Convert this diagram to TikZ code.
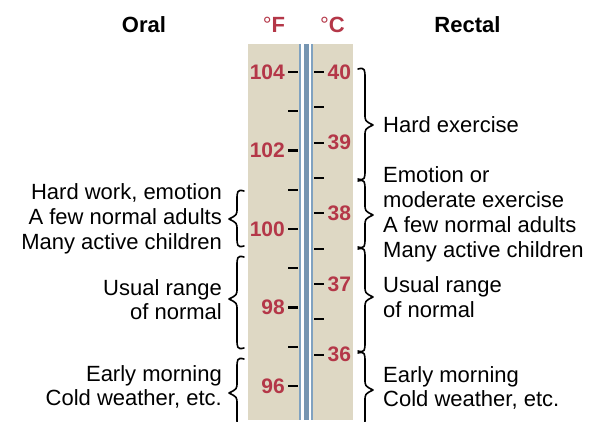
\documentclass[tikz,border=0pt]{standalone}
\usepackage{fontspec}
\setmainfont{Liberation Sans}
\definecolor{panelbg}{RGB}{222,216,196}
\definecolor{tubeblue}{RGB}{128,162,192}
\definecolor{numred}{RGB}{180,55,72}
\tikzset{
  txt/.style={font=\fontsize{22}{25}\selectfont, inner sep=0pt},
  num/.style={font=\fontsize{21}{25}\selectfont\bfseries, text=numred, inner sep=0pt},
  ttl/.style={font=\fontsize{22}{25}\selectfont\bfseries, inner sep=0pt},
  tickline/.style={line width=2.2pt},
  brc/.style={line width=1.6pt, line cap=round, line join=round},
}
% #1 spine x, #2 hook x, #3 tip x, #4 top y, #5 tip y, #6 bottom y
\newcommand{\mybrace}[6]{%
  \draw[brc] (#2,{#4+1}) .. controls (#1,{#4-1}) and (#1,{#4+2}) .. (#1,{#4+10}) -- (#1,{#5-11})
    .. controls (#1,{#5-4}) .. (#3,#5) .. controls (#1,{#5+4}) .. (#1,{#5+11})
    -- (#1,{#6-10}) .. controls (#1,{#6-2}) and (#1,{#6+1}) .. (#2,{#6-1});}
\begin{document}
\begin{tikzpicture}[x=1pt,y=-1pt]
\useasboundingbox (0,0) rectangle (592,435);
% panel and tube
\fill[panelbg] (248,44) rectangle (353,420);
\fill[white] (299,44) rectangle (313,420);
\fill[tubeblue] (299,44) rectangle (301.3,420);
\fill[tubeblue!92!black] (303.8,44) rectangle (308.6,420);
\fill[tubeblue] (311,44) rectangle (313,420);
% ticks
\foreach \f in {96,...,104}
  \draw[tickline] (288,{72+(104-\f)*39.25}) -- (298,{72+(104-\f)*39.25});
\foreach \i in {0,...,8}
  \draw[tickline] (314,{72+\i*35.33}) -- (323.5,{72+\i*35.33});
% F labels
\foreach \f in {104,102,100,98,96}
  \node[num, anchor=east] (f\f) at (285,{72+(104-\f)*39.25}) {\f};
% C labels
\foreach \c/\i in {40/0,39/2,38/4,37/6,36/8}
  \node[num, anchor=west] (c\c) at (327.5,{72+\i*35.33}) {\c};
% titles
\node[ttl, anchor=base] (oral) at (144,33) {Oral};
\node[ttl, anchor=base] (rectal) at (467.5,33) {Rectal};
\node[ttl, text=numred, anchor=base] (degf) at (274,33) {{\mdseries °}F};
\node[ttl, text=numred, anchor=base] (degc) at (332.5,33) {{\mdseries °}C};
% braces
\begin{scope}
\clip (0,0) rectangle (592,422);
\mybrace{237}{244}{229}{190}{219}{247}
\mybrace{237}{244}{229}{256}{299}{349}
\mybrace{237}{244}{229}{358}{393}{428}
\mybrace{365}{358}{373}{68}{125}{180}
\mybrace{365}{358}{373}{180}{215}{248}
\mybrace{365}{358}{373}{248}{297}{352}
\mybrace{365}{358}{373}{352}{390}{428}
\end{scope}
% left texts
\node[txt, anchor=base east] (l1) at (222,200) {Hard work, emotion};
\node[txt, anchor=base east] (l2) at (222,225) {A few normal adults};
\node[txt, anchor=base east] (l3) at (222,250) {Many active children};
\node[txt, anchor=base east] (l4) at (222,296) {Usual range};
\node[txt, anchor=base east] (l5) at (222,320) {of normal};
\node[txt, anchor=base east] (l6) at (222,382) {Early morning};
\node[txt, anchor=base east] (l7) at (222,406) {Cold weather, etc.};
% right texts
\node[txt, anchor=base west] (r0) at (383,133) {Hard exercise};
\node[txt, anchor=base west] (r1) at (383,183) {Emotion or};
\node[txt, anchor=base west] (r2) at (383,208) {moderate exercise};
\node[txt, anchor=base west] (r3) at (383,233) {A few normal adults};
\node[txt, anchor=base west] (r4) at (383,258) {Many active children};
\node[txt, anchor=base west] (r5) at (383,293) {Usual range};
\node[txt, anchor=base west] (r6) at (383,318) {of normal};
\node[txt, anchor=base west] (r7) at (383,383) {Early morning};
\node[txt, anchor=base west] (r8) at (383,407) {Cold weather, etc.};
\end{tikzpicture}
\end{document}
